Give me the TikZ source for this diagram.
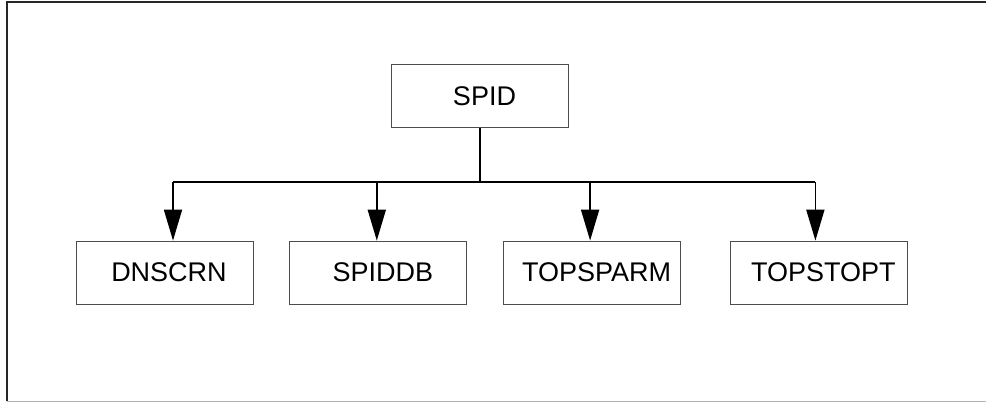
\documentclass[tikz,border=0pt]{standalone}
\usepackage{fontspec}
\setmainfont{Liberation Sans}
\usetikzlibrary{arrows.meta,positioning}
\tikzset{
  modbox/.style={rectangle, draw=black!70, line width=0.8pt, minimum width=177pt,
                 minimum height=63pt, inner sep=0pt, font=\fontsize{27}{31}\selectfont,
                 execute at begin node=\hspace*{9pt}},
  link/.style={line width=1.8pt, draw=black},
  arr/.style={-{Triangle[length=31pt,width=18pt]}, line width=1.8pt, draw=black},
}
\begin{document}
\begin{tikzpicture}[x=1pt, y=-1pt, node distance=36pt]
  \useasboundingbox (0,0) rectangle (986,402);
  % frame
  \draw[line width=1.2pt, black!85] (986,2) -- (7,2) -- (7,401);
  \draw[line width=1pt, black!30] (7,401) -- (986,401);
  % boxes
  \node[modbox] (spid) at (480,96) {SPID};
  \node[modbox] (dnscrn) at (164.5,272.5) {DNSCRN};
  \node[modbox, right=of dnscrn] (spiddb) {SPIDDB};
  \node[modbox, right=of spiddb] (topsparm) {TOPSPARM};
  \node[modbox, right=49pt of topsparm] (topstopt) {TOPSTOPT};
  % connectors
  \coordinate (bar) at (481,182);
  \draw[link] (spid.south) -- (spid.south |- bar);
  \draw[link] ([xshift=8.5pt]dnscrn.north |- bar) -- ([xshift=-3.5pt]topstopt.north |- bar);
  \draw[arr] ([xshift=8.5pt]dnscrn.north |- bar) -- ([xshift=8.5pt]dnscrn.north);
  \draw[arr] ([xshift=-1.5pt]spiddb.north |- bar) -- ([xshift=-1.5pt]spiddb.north);
  \draw[arr] ([xshift=-2pt]topsparm.north |- bar) -- ([xshift=-2pt]topsparm.north);
  \draw[arr] ([xshift=-3.5pt]topstopt.north |- bar) -- ([xshift=-3.5pt]topstopt.north);
\end{tikzpicture}
\end{document}
